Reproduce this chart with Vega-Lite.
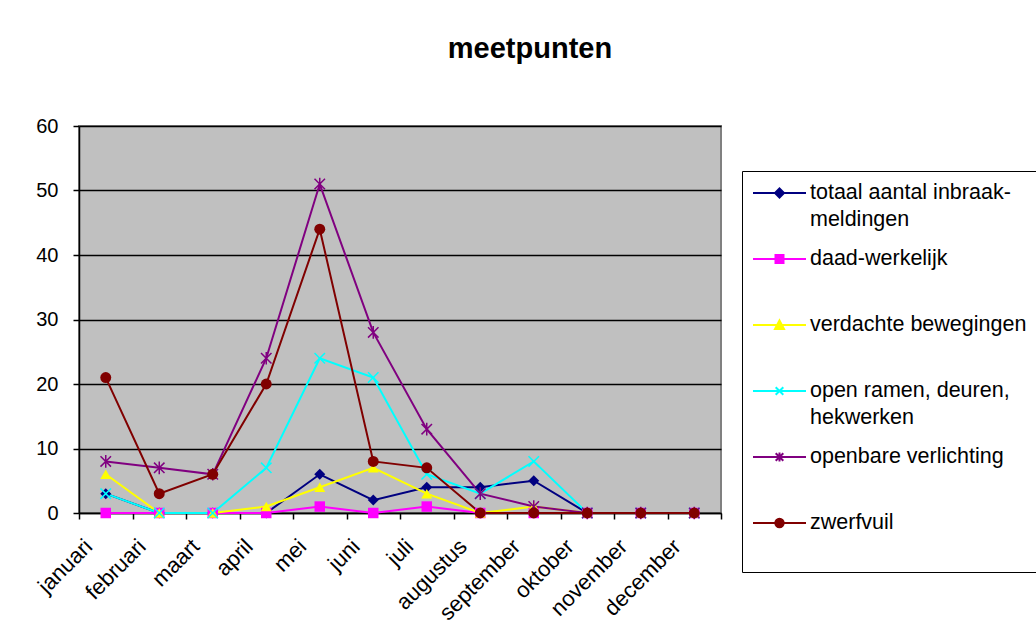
{
  "$schema": "https://vega.github.io/schema/vega-lite/v6.json",
  "autosize": {"type": "none"},
  "width": 642,
  "height": 387,
  "padding": {"left": 79, "top": 126, "right": 315, "bottom": 128},
  "background": "white",
  "title": {"text": "meetpunten", "font": "Liberation Sans", "fontSize": 29, "fontWeight": "bold", "color": "black", "anchor": "middle", "dx": 130, "offset": 52},
  "config": {
    "view": {"fill": "#C0C0C0", "stroke": "#808080", "strokeWidth": 2},
    "font": "Liberation Sans"
  },
  "data": {"values": [
    {"month": "januari", "series": "totaal aantal inbraak-meldingen", "value": 3},
    {"month": "februari", "series": "totaal aantal inbraak-meldingen", "value": 0},
    {"month": "maart", "series": "totaal aantal inbraak-meldingen", "value": 0},
    {"month": "april", "series": "totaal aantal inbraak-meldingen", "value": 0},
    {"month": "mei", "series": "totaal aantal inbraak-meldingen", "value": 6},
    {"month": "juni", "series": "totaal aantal inbraak-meldingen", "value": 2},
    {"month": "juli", "series": "totaal aantal inbraak-meldingen", "value": 4},
    {"month": "augustus", "series": "totaal aantal inbraak-meldingen", "value": 4},
    {"month": "september", "series": "totaal aantal inbraak-meldingen", "value": 5},
    {"month": "oktober", "series": "totaal aantal inbraak-meldingen", "value": 0},
    {"month": "november", "series": "totaal aantal inbraak-meldingen", "value": 0},
    {"month": "december", "series": "totaal aantal inbraak-meldingen", "value": 0},
    {"month": "januari", "series": "daad-werkelijk", "value": 0},
    {"month": "februari", "series": "daad-werkelijk", "value": 0},
    {"month": "maart", "series": "daad-werkelijk", "value": 0},
    {"month": "april", "series": "daad-werkelijk", "value": 0},
    {"month": "mei", "series": "daad-werkelijk", "value": 1},
    {"month": "juni", "series": "daad-werkelijk", "value": 0},
    {"month": "juli", "series": "daad-werkelijk", "value": 1},
    {"month": "augustus", "series": "daad-werkelijk", "value": 0},
    {"month": "september", "series": "daad-werkelijk", "value": 0},
    {"month": "oktober", "series": "daad-werkelijk", "value": 0},
    {"month": "november", "series": "daad-werkelijk", "value": 0},
    {"month": "december", "series": "daad-werkelijk", "value": 0},
    {"month": "januari", "series": "verdachte bewegingen", "value": 6},
    {"month": "februari", "series": "verdachte bewegingen", "value": 0},
    {"month": "maart", "series": "verdachte bewegingen", "value": 0},
    {"month": "april", "series": "verdachte bewegingen", "value": 1},
    {"month": "mei", "series": "verdachte bewegingen", "value": 4},
    {"month": "juni", "series": "verdachte bewegingen", "value": 7},
    {"month": "juli", "series": "verdachte bewegingen", "value": 3},
    {"month": "augustus", "series": "verdachte bewegingen", "value": 0},
    {"month": "september", "series": "verdachte bewegingen", "value": 1},
    {"month": "oktober", "series": "verdachte bewegingen", "value": 0},
    {"month": "november", "series": "verdachte bewegingen", "value": 0},
    {"month": "december", "series": "verdachte bewegingen", "value": 0},
    {"month": "januari", "series": "open ramen, deuren, hekwerken", "value": 3},
    {"month": "februari", "series": "open ramen, deuren, hekwerken", "value": 0},
    {"month": "maart", "series": "open ramen, deuren, hekwerken", "value": 0},
    {"month": "april", "series": "open ramen, deuren, hekwerken", "value": 7},
    {"month": "mei", "series": "open ramen, deuren, hekwerken", "value": 24},
    {"month": "juni", "series": "open ramen, deuren, hekwerken", "value": 21},
    {"month": "juli", "series": "open ramen, deuren, hekwerken", "value": 6},
    {"month": "augustus", "series": "open ramen, deuren, hekwerken", "value": 3},
    {"month": "september", "series": "open ramen, deuren, hekwerken", "value": 8},
    {"month": "oktober", "series": "open ramen, deuren, hekwerken", "value": 0},
    {"month": "november", "series": "open ramen, deuren, hekwerken", "value": 0},
    {"month": "december", "series": "open ramen, deuren, hekwerken", "value": 0},
    {"month": "januari", "series": "openbare verlichting", "value": 8},
    {"month": "februari", "series": "openbare verlichting", "value": 7},
    {"month": "maart", "series": "openbare verlichting", "value": 6},
    {"month": "april", "series": "openbare verlichting", "value": 24},
    {"month": "mei", "series": "openbare verlichting", "value": 51},
    {"month": "juni", "series": "openbare verlichting", "value": 28},
    {"month": "juli", "series": "openbare verlichting", "value": 13},
    {"month": "augustus", "series": "openbare verlichting", "value": 3},
    {"month": "september", "series": "openbare verlichting", "value": 1},
    {"month": "oktober", "series": "openbare verlichting", "value": 0},
    {"month": "november", "series": "openbare verlichting", "value": 0},
    {"month": "december", "series": "openbare verlichting", "value": 0},
    {"month": "januari", "series": "zwerfvuil", "value": 21},
    {"month": "februari", "series": "zwerfvuil", "value": 3},
    {"month": "maart", "series": "zwerfvuil", "value": 6},
    {"month": "april", "series": "zwerfvuil", "value": 20},
    {"month": "mei", "series": "zwerfvuil", "value": 44},
    {"month": "juni", "series": "zwerfvuil", "value": 8},
    {"month": "juli", "series": "zwerfvuil", "value": 7},
    {"month": "augustus", "series": "zwerfvuil", "value": 0},
    {"month": "september", "series": "zwerfvuil", "value": 0},
    {"month": "oktober", "series": "zwerfvuil", "value": 0},
    {"month": "november", "series": "zwerfvuil", "value": 0},
    {"month": "december", "series": "zwerfvuil", "value": 0}
  ]},
  "encoding": {
    "x": {
      "field": "month", "type": "nominal",
      "scale": {"type": "band", "paddingInner": 0, "paddingOuter": 0,
        "domain": ["januari", "februari", "maart", "april", "mei", "juni", "juli", "augustus", "september", "oktober", "november", "december"]},
      "axis": {"title": null, "labelAngle": -45, "labelAlign": "right", "labelBaseline": "bottom", "labelFont": "Liberation Sans", "labelFontSize": 22, "labelColor": "black", "labelPadding": 32, "labelOffset": -9, "tickBand": "extent", "tickSize": 6, "tickColor": "black", "tickWidth": 1.5, "domainColor": "black", "domainWidth": 1.5, "grid": false, "labelOverlap": false}
    },
    "y": {
      "field": "value", "type": "quantitative",
      "scale": {"domain": [0, 60], "nice": false},
      "axis": {"title": null, "values": [0, 10, 20, 30, 40, 50, 60], "grid": true, "gridColor": "black", "gridWidth": 1.5, "tickSize": 6, "tickColor": "black", "tickWidth": 1.5, "labelPadding": 15, "labelFont": "Liberation Sans", "labelFontSize": 20, "labelColor": "black", "domainColor": "black", "domainWidth": 1.5}
    }
  },
  "layer": [
    {
      "mark": {"type": "line", "strokeWidth": 2},
      "encoding": {
        "color": {
          "field": "series", "type": "nominal",
          "scale": {
            "domain": ["totaal aantal inbraak-meldingen", "daad-werkelijk", "verdachte bewegingen", "open ramen, deuren, hekwerken", "openbare verlichting", "zwerfvuil"],
            "range": ["#000080", "#FF00FF", "#FFFF00", "#00FFFF", "#800080", "#800000"]
          },
          "legend": {
            "orient": "none", "legendX": 663, "legendY": 45, "title": null,
            "strokeColor": "black", "fillColor": "white", "padding": 11,
            "symbolSize": 400, "symbolStrokeWidth": 2, "labelOffset": 35, "rowPadding": 17,
            "labelFont": "Liberation Sans", "labelFontSize": 21.5, "labelColor": "black", "labelLimit": 400,
            "labelExpr": "datum.label == 'totaal aantal inbraak-meldingen' ? ['totaal aantal inbraak-', 'meldingen'] : datum.label == 'open ramen, deuren, hekwerken' ? ['open ramen, deuren,', 'hekwerken'] : [datum.label, '']",
            "encode": {
              "labels": {"update": {"lineHeight": {"value": 27}}},
              "symbols": {
                "update": {
                  "shape": {"signal": "datum.value == 'totaal aantal inbraak-meldingen' ? 'M-1.1,0H4.2M1.55,-0.45L2,0L1.55,0.45L1.1,0Z' : datum.value == 'daad-werkelijk' ? 'M-1.1,0H4.2M1.15,-0.4H1.95V0.4H1.15Z' : datum.value == 'verdachte bewegingen' ? 'M-1.1,0H4.2M1.55,-0.45L2,0.4H1.1Z' : datum.value == 'open ramen, deuren, hekwerken' ? 'M-1.1,0H4.2M1.17,-0.38L1.93,0.38M1.17,0.38L1.93,-0.38' : datum.value == 'openbare verlichting' ? 'M-1.1,0H4.2M1.17,-0.38L1.93,0.38M1.17,0.38L1.93,-0.38M1.55,-0.45V0.45' : 'M-1.1,0H4.2M1.97,0A0.42,0.42,0,1,1,1.13,0A0.42,0.42,0,1,1,1.97,0Z'"},
                  "fill": {"signal": "datum.value == 'totaal aantal inbraak-meldingen' ? '#000080' : datum.value == 'daad-werkelijk' ? '#FF00FF' : datum.value == 'verdachte bewegingen' ? '#FFFF00' : datum.value == 'open ramen, deuren, hekwerken' ? '#00FFFF' : datum.value == 'openbare verlichting' ? '#800080' : '#800000'"}
                }
              }
            }
          }
        }
      }
    },
    {
      "transform": [{"filter": "datum.series == 'totaal aantal inbraak-meldingen'"}],
      "mark": {"type": "point", "shape": "diamond", "filled": true, "size": 120, "opacity": 1, "fill": "#000080"}
    },
    {
      "transform": [{"filter": "datum.series == 'daad-werkelijk'"}],
      "mark": {"type": "point", "shape": "square", "filled": true, "size": 110, "opacity": 1, "fill": "#FF00FF"}
    },
    {
      "transform": [{"filter": "datum.series == 'verdachte bewegingen'"}],
      "mark": {"type": "point", "shape": "triangle-up", "filled": true, "size": 120, "opacity": 1, "fill": "#FFFF00"}
    },
    {
      "transform": [{"filter": "datum.series == 'open ramen, deuren, hekwerken'"}],
      "mark": {"type": "point", "shape": "M-1,-1L1,1M-1,1L1,-1", "filled": false, "size": 110, "opacity": 1, "stroke": "#00FFFF", "strokeWidth": 1.5}
    },
    {
      "transform": [{"filter": "datum.series == 'openbare verlichting'"}],
      "mark": {"type": "point", "shape": "M-1,-1L1,1M-1,1L1,-1M0,-1.2L0,1.2", "filled": false, "size": 110, "opacity": 1, "stroke": "#800080", "strokeWidth": 1.5}
    },
    {
      "transform": [{"filter": "datum.series == 'zwerfvuil'"}],
      "mark": {"type": "point", "shape": "circle", "filled": true, "size": 120, "opacity": 1, "fill": "#800000"}
    }
  ]
}
